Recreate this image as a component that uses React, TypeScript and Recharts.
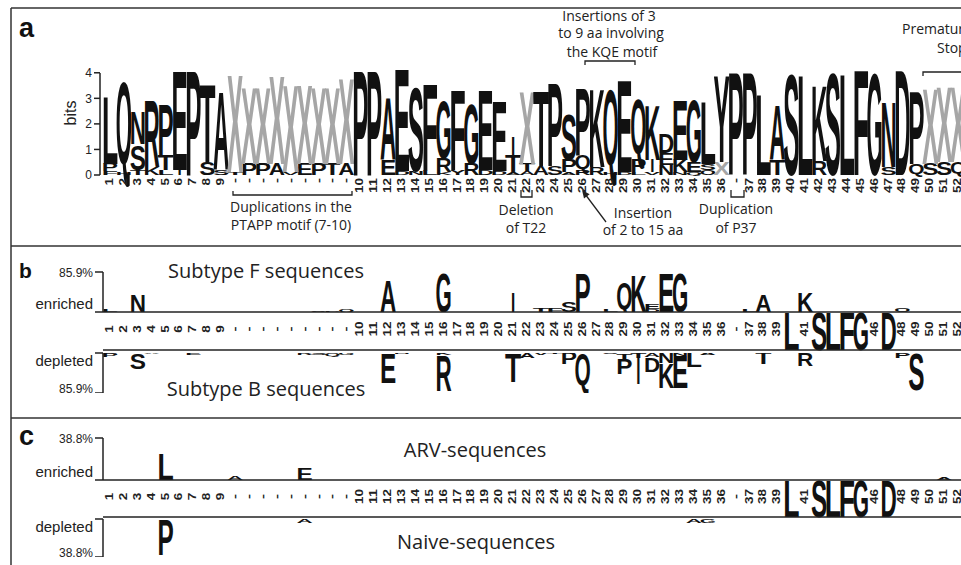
import React from 'react';
import { BarChart, Bar, XAxis, YAxis } from 'recharts';

const LOGO_FONT = "'Liberation Sans', Arial, sans-serif";
const TEXT_FONT = "'Open Sans', sans-serif";
const INK = '#222';

// column labels: 9 gap columns after position 9, one after 36
const positions = [
  '1', '2', '3', '4', '5', '6', '7', '8', '9',
  '-', '-', '-', '-', '-', '-', '-', '-', '-',
  '10', '11', '12', '13', '14', '15', '16', '17', '18', '19', '20', '21', '22', '23', '24', '25', '26', '27', '28',
  '29', '30', '31', '32', '33', '34', '35', '36',
  '-', '37', '38', '39', '40', '41', '42', '43', '44', '45', '46', '47', '48', '49', '50', '51', '52',
];

const chars = (s: string) => s.split('').map((c) => (c === '.' ? '' : c));

// panel a: letters stacked, top = largest
const aTopChars = chars('LQNRPEPTA' + 'XXXXXXXXX' + 'PPAESFGFGEEIXTPSPKQEQKDEGLY' + 'PPLASLKSLFGNDPXXX');
const aTopBits = [
  2.7, 3.6, 1.3, 2.7, 2.0, 4.0, 4.2, 3.1, 3.1,
  3.9, 3.05, 3.05, 3.55, 3.5, 3.15, 3.05, 3.05, 3.45,
  4.2, 4.2, 2.5, 4.1, 3.3, 3.5, 2.3, 3.2, 2.4, 3.2, 2.8, 0.8, 2.9, 3.0, 3.3, 1.8, 2.7, 3.1, 3.3, 3.7, 2.4, 2.2, 0.75, 2.4, 2.5, 2.5, 3.5,
  4.1, 4.1, 3.2, 2.2, 4.0, 4.0, 3.0, 4.05, 4.05, 4.2, 4.05, 2.6, 4.2, 2.9, 3.0, 3.0, 3.0,
];
const aMidChars = chars('PHSKTI.SS' + 'TPPAVEPTA' + '..EDNLRYRDDTTASPQRHDPIEKESX' + '...T..R....S.QSSQ');
const aMidBits = [
  0.3, 0.1, 1.0, 0.3, 0.6, 0.2, 0, 0.5, 0.2,
  0.1, 0.45, 0.45, 0.45, 0.1, 0.45, 0.45, 0.45, 0.45,
  0, 0, 0.6, 0.15, 0.15, 0.2, 0.55, 0.2, 0.45, 0.2, 0.15, 0.65, 0.3, 0.35, 0.35, 0.5, 0.6, 0.3, 0.1, 0.1, 0.5, 0.5, 0.45, 0.5, 0.4, 0.25, 0.5,
  0, 0, 0, 0.6, 0, 0, 0.55, 0, 0, 0, 0, 0.3, 0, 0.45, 0.45, 0.5, 0.5,
];
const aLowChars = chars('F.T.L....' + '.........' + '......K....AA..AR...LVNNQO.' + '.................');
const aLowBits = [
  0.15, 0, 0.2, 0, 0.2, 0, 0, 0, 0,
  0, 0, 0, 0, 0, 0, 0, 0, 0,
  0, 0, 0, 0, 0, 0, 0.1, 0, 0, 0, 0, 0.1, 0.15, 0, 0, 0.1, 0.2, 0, 0, 0, 0.1, 0.1, 0.4, 0.1, 0.1, 0.2, 0,
  0, 0, 0, 0, 0, 0, 0, 0, 0, 0, 0, 0, 0, 0, 0, 0, 0,
];

// panel b: [column, letter, %]
const fEnriched: [number, string, number][] = [
  [0, 'L', 6], [2, 'N', 36], [15, 'S', 3], [16, 'P', 3], [17, 'Q', 5], [20, 'A', 68], [24, 'G', 85],
  [29, 'I', 42], [31, 'T', 8], [32, 'F', 8], [33, 'S', 22], [34, 'P', 84], [36, 'L', 5], [37, 'Q', 62],
  [38, 'K', 80], [39, 'E', 12], [40, 'E', 84], [41, 'G', 85], [46, 'L', 4], [47, 'A', 36], [50, 'K', 42], [57, 'Q', 8],
];
const fEnrichedMinor: [number, string, number][] = [[39, 'D', 6]];
const bDepleted: [number, string, number][] = [
  [0, 'P', 8], [2, 'S', 34], [3, 'A', 3], [6, 'E', 4], [14, 'R', 4], [15, 'S', 5], [16, 'Q', 6], [17, 'G', 4],
  [20, 'E', 64], [21, 'N', 3], [24, 'R', 78], [29, 'T', 62], [30, 'A', 10], [31, 'V', 5], [32, 'T', 3],
  [33, 'P', 24], [34, 'Q', 76], [36, 'S', 3], [37, 'P', 34], [38, 'I', 56], [39, 'D', 32], [40, 'K', 54],
  [41, 'E', 70], [42, 'L', 30], [43, 'A', 4], [47, 'T', 24], [50, 'R', 28], [57, 'P', 10], [58, 'S', 80],
];
const bDepletedMinor: [number, string, number][] = [
  [24, 'K', 4], [37, 'T', 12], [38, 'T', 10], [39, 'A', 8], [40, 'N', 22], [41, 'N', 6],
];

// panel c
const arvEnriched: [number, string, number][] = [[4, 'L', 25], [9, 'A', 4], [14, 'E', 11], [60, 'A', 2]];
const naiveDepleted: [number, string, number][] = [[4, 'P', 37], [14, 'A', 4], [42, 'A', 4], [43, 'G', 4]];

// conserved residues drawn inside the number band
const bandLetters: [number, string][] = [[49, 'L'], [51, 'S'], [52, 'L'], [53, 'F'], [54, 'G'], [56, 'D']];

const bMax = 85.9;
const cMax = 38.8;

const sparse = (entries: [number, string, number][]) => {
  const c = positions.map(() => '');
  const v = positions.map(() => 0);
  entries.forEach(([i, ch, val]) => { c[i] = ch; v[i] = val; });
  return { c, v };
};

const logoRows = positions.map((_, i) => ({
  idx: i,
  c1: aLowChars[i], v1: aLowBits[i],
  c2: aMidChars[i], v2: aMidBits[i],
  c3: aTopChars[i], v3: aTopBits[i],
}));

const sideRows = (main: [number, string, number][], minor: [number, string, number][]) => {
  const m = sparse(main);
  const n = sparse(minor);
  return positions.map((_, i) => ({ idx: i, c1: n.c[i], v1: n.v[i], c2: m.c[i], v2: m.v[i] }));
};

const bandMap = new Map(bandLetters);
const bandRows = positions.map((_, i) => ({ idx: i, cb: bandMap.get(i) || '', vb: bandMap.has(i) ? 1 : 0 }));

const makeGlyph = (slot: string) => (props: any) => {
  const { x, y, width, height, payload } = props;
  const ch: string = payload ? payload[slot] : '';
  let top = y;
  let h = height;
  if (h < 0) { top = y + h; h = -h; }
  if (!ch || !(h > 0.3)) return <g />;
  const thin = ch === 'I';
  const w = thin ? width * 0.3 : width * 1.16;
  const left = thin ? x + width * 0.35 : x - width * 0.08;
  // Q has a tail below the baseline: fit the whole glyph into the slot
  const tail = ch === 'Q' ? 0.07 : 0;
  const fs = h / (0.716 + tail);
  return (
    <text x={left} y={top + h - tail * fs} fontSize={fs} fontFamily={LOGO_FONT} fontWeight={700}
      fill={ch === 'X' ? '#a6a6a6' : '#111'} textLength={w} lengthAdjust="spacingAndGlyphs">{ch}</text>
  );
};

const PosTick = (props: any) => {
  const { x, payload, top, mid } = props;
  const i = payload.value;
  const label = positions[i];
  if (!label || (mid !== undefined && bandMap.has(i))) return <g />;
  const len = label === '-' ? 5 : label.length * 7.5;
  const ty = mid !== undefined ? mid : top;
  return (
    <text transform={`translate(${x - 1},${ty}) rotate(-90)`} textAnchor={mid !== undefined ? 'middle' : 'end'}
      dominantBaseline="central" fontSize={10.5} fontWeight={700} fontFamily={LOGO_FONT} fill={INK}
      textLength={len} lengthAdjust="spacingAndGlyphs">{label}</text>
  );
};

const SideTick = (props: any) => {
  const { x, y, payload, word, pct, wordDy, pctDy } = props;
  const isWord = Number(payload.value) === 0;
  return (
    <text x={x} y={y + (isWord ? wordDy : pctDy)} textAnchor="end" dominantBaseline="central"
      fontFamily={LOGO_FONT} fontSize={isWord ? 15 : 12} fill={INK}>{isWord ? word : pct}</text>
  );
};

const axisStroke = { stroke: INK, strokeWidth: 1.5 };

const SideChart = ({ rows, max, reversed, height, top, word }: any) => (
  <BarChart width={965} height={height} data={rows} margin={{ top, right: 0, bottom: 0, left: 73 }} barCategoryGap={0} barGap={0}>
    {reversed
      ? <XAxis dataKey="idx" hide />
      : <XAxis dataKey="idx" height={1} tick={false} tickLine={false} axisLine={axisStroke} />}
    <YAxis type="number" domain={[0, max]} allowDataOverflow ticks={[0, max]} interval={0} reversed={reversed} width={30} tickSize={8}
      axisLine={axisStroke} tickLine={axisStroke}
      tick={<SideTick word={word} pct={`${max}%`} wordDy={reversed ? 7 : -9} pctDy={reversed ? -4 : 1} />} />
    <Bar dataKey="v1" stackId="s" shape={makeGlyph('c1')} isAnimationActive={false} />
    <Bar dataKey="v2" stackId="s" shape={makeGlyph('c2')} isAnimationActive={false} />
  </BarChart>
);

const BandChart = ({ height }: { height: number }) => (
  <BarChart width={965} height={height + 1} data={bandRows} margin={{ top: 0, right: 0, bottom: 0, left: 103 }} barCategoryGap={0} barGap={0}>
    <XAxis dataKey="idx" interval={0} height={1} tickLine={false} axisLine={axisStroke} tick={<PosTick mid={height / 2 - 2} />} />
    <YAxis hide domain={[0, 1]} />
    <Bar dataKey="vb" shape={makeGlyph('cb')} isAnimationActive={false} />
  </BarChart>
);

const T = (p: any) => <text fontFamily={TEXT_FONT} fill={INK} textAnchor="middle" fontSize={14} {...p} />;

const Overlay = () => (
  <svg width={961} height={565} style={{ position: 'absolute', left: 0, top: 0 }}>
    <g stroke="#333" strokeWidth={1.5} fill="none">
      <line x1={11} y1={8} x2={961} y2={8} />
      <line x1={11} y1={8} x2={11} y2={565} />
      <line x1={11} y1={246} x2={961} y2={246} />
      <line x1={11} y1={418} x2={961} y2={418} />
    </g>
    <text x={19} y={37} fontFamily={LOGO_FONT} fontWeight={700} fontSize={27} fill="#111">a</text>
    <text x={19} y={278} fontFamily={LOGO_FONT} fontWeight={700} fontSize={21} fill="#111">b</text>
    <text x={19} y={445} fontFamily={LOGO_FONT} fontWeight={700} fontSize={27} fill="#111">c</text>
    <text transform="translate(70,113) rotate(-90)" textAnchor="middle" dominantBaseline="central"
      fontFamily={LOGO_FONT} fontSize={16} fill={INK}>bits</text>
    <line x1={100} y1={73} x2={100} y2={175} stroke={INK} strokeWidth={1.5} />

    <g stroke={INK} strokeWidth={1.3} fill="none">
      <polyline points="233,191 233,195 352,195 352,191" />
      <polyline points="521,190 521,197 532,197 532,190" />
      <polyline points="731,190 731,197 744,197 744,190" />
      <polyline points="585,65 585,61 635,61 635,65" />
      <polyline points="923,76 923,72 961,72" />
      <line x1={606} y1={222} x2={585} y2={194} />
    </g>
    <polygon points="582,190 589.6,194.3 584,198.5" fill={INK} />

    <T x={291} y={212}>Duplications in the</T>
    <T x={291} y={230}>PTAPP motif (7-10)</T>
    <T x={526} y={215}>Deletion</T>
    <T x={526} y={233}>of T22</T>
    <T x={643} y={218}>Insertion</T>
    <T x={643} y={235}>of 2 to 15 aa</T>
    <T x={736} y={214}>Duplication</T>
    <T x={736} y={233}>of P37</T>
    <T x={609} y={21}>Insertions of 3</T>
    <T x={611} y={38}>to 9 aa involving</T>
    <T x={612} y={57}>the KQE motif</T>
    <T x={902} y={34} textAnchor="start">Premature</T>
    <T x={937} y={53} textAnchor="start">Stop</T>

    <T x={266} y={278} fontSize={20}>Subtype F sequences</T>
    <T x={266} y={396} fontSize={20}>Subtype B sequences</T>
    <T x={475} y={457} fontSize={20}>ARV-sequences</T>
    <T x={476} y={549} fontSize={20}>Naive-sequences</T>
  </svg>
);

const at = (top: number, child: React.ReactNode) => (
  <div style={{ position: 'absolute', left: 0, top }}>{child}</div>
);

export default function App() {
  return (
    <div style={{ position: 'absolute', left: 0, top: 0, width: 961, height: 565, overflow: 'hidden', background: '#fff' }}>
      <Overlay />
      {at(0,
        <BarChart width={965} height={200} data={logoRows} margin={{ top: 60, right: 0, bottom: 0, left: 70 }} barCategoryGap={0} barGap={0}>
          <XAxis dataKey="idx" interval={0} height={25} axisLine={false} tickLine={false} tickSize={0}
            padding={{ left: 3, right: 0 }} tick={<PosTick top={178} />} />
          <YAxis type="number" domain={[0, 4.5]} ticks={[0, 1, 2, 3, 4]} interval={0} width={30} axisLine={false} tickSize={6}
            tickLine={axisStroke} tick={{ fontSize: 12, fill: INK, fontFamily: LOGO_FONT }} />
          <Bar dataKey="v1" stackId="a" shape={makeGlyph('c1')} isAnimationActive={false} />
          <Bar dataKey="v2" stackId="a" shape={makeGlyph('c2')} isAnimationActive={false} />
          <Bar dataKey="v3" stackId="a" shape={makeGlyph('c3')} isAnimationActive={false} />
        </BarChart>
      )}
      {at(262, <SideChart rows={sideRows(fEnriched, fEnrichedMinor)} max={bMax} height={51} top={10} word="enriched" />)}
      {at(312, <BandChart height={38} />)}
      {at(350, <SideChart rows={sideRows(bDepleted, bDepletedMinor)} max={bMax} reversed height={43} top={3} word="depleted" />)}
      {at(428, <SideChart rows={sideRows(arvEnriched, [])} max={cMax} height={53} top={10} word="enriched" />)}
      {at(480, <BandChart height={37} />)}
      {at(517, <SideChart rows={sideRows(naiveDepleted, [])} max={cMax} reversed height={40} top={2} word="depleted" />)}
    </div>
  );
}
